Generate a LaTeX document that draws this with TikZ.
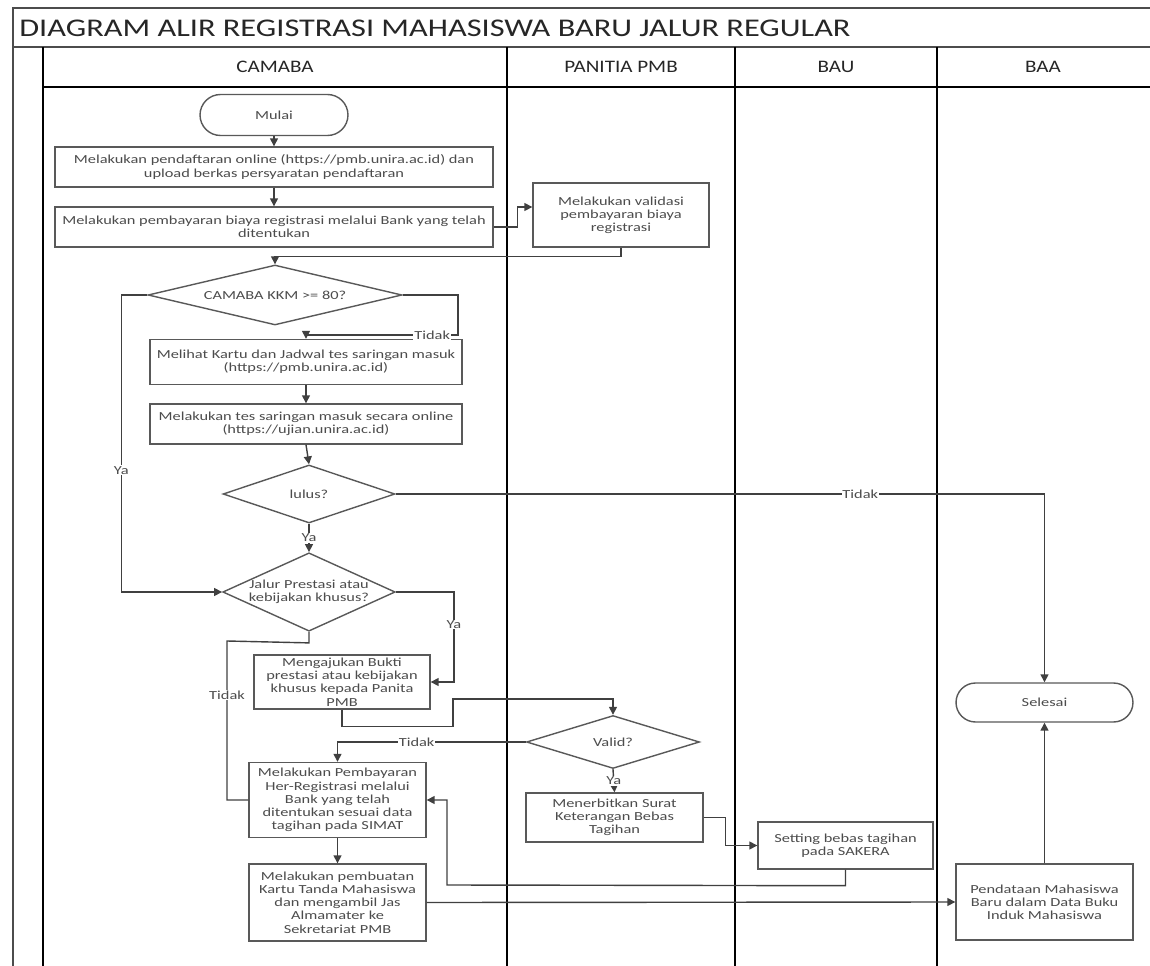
\documentclass[tikz,border=0pt]{standalone}
\usepackage{fontspec}
\setmainfont[FakeStretch=1.2]{Carlito}
\newfontfamily\boxfont[FakeStretch=1.33]{Carlito}
\newfontfamily\titlefont[FakeStretch=1.27]{Carlito}
\usetikzlibrary{shapes.geometric,shapes.misc,arrows.meta}
\tikzset{
  lane/.style={line width=1.1pt, black},
  frame/.style={line width=1pt, black!70},
  proc/.style={draw=black!65, line width=0.8pt, fill=white, inner sep=0pt, align=center,
    font=\boxfont\fontsize{7}{7.5}\selectfont, text=black!70},
  term/.style={proc, rounded rectangle},
  decision/.style={proc, diamond, aspect=2.3},
  conn/.style={draw=black!75, line width=0.8pt},
  arr/.style={conn, -{Triangle[length=4.5pt,width=4.5pt]}},
  lbl/.style={fill=white, inner sep=0.5pt, font=\boxfont\fontsize{7}{7.5}\selectfont, text=black!70},
  lanehead/.style={font=\fontsize{10}{12}\selectfont, text=black!85},
}
\begin{document}
\begin{tikzpicture}[x=0.02cm,y=-0.02cm]
\useasboundingbox (0,0) rectangle (1150,966);
% frame and swimlanes
\draw[frame] (13,966) -- (13,8) -- (1150,8);
\draw[frame] (13,47) -- (1150,47);
\draw[lane] (43,47) -- (43,966);
\draw[lane] (43,87) -- (1150,87);
\draw[lane] (507,47) -- (507,966);
\draw[lane] (735,47) -- (735,966);
\draw[lane] (937,47) -- (937,966);
\node[anchor=west, inner sep=0pt, font=\titlefont\fontsize{14.5}{16}\selectfont, text=black!85] (judul) at (19,28)
  {DIAGRAM ALIR REGISTRASI MAHASISWA BARU JALUR REGULAR};
\node[lanehead] (hcamaba) at (275,67) {CAMABA};
\node[lanehead] (hpanitia) at (621,67) {PANITIA PMB};
\node[lanehead] (hbau) at (836,67) {BAU};
\node[lanehead] (hbaa) at (1043,67) {BAA};

% steps
\node[term, minimum width=2.96cm, minimum height=0.82cm] (mulai) at (274,115) {Mulai};
\node[proc, minimum width=8.76cm, minimum height=0.8cm] (daftar) at (274,167)
  {Melakukan pendaftaran online (https://pmb.unira.ac.id) dan\\upload berkas persyaratan pendaftaran};
\node[proc, minimum width=8.76cm, minimum height=0.8cm] (bayar) at (274,227)
  {Melakukan pembayaran biaya registrasi melalui Bank yang telah\\ditentukan};
\node[proc, minimum width=3.52cm, minimum height=1.28cm] (validasi) at (621,215)
  {Melakukan validasi\\pembayaran biaya\\registrasi};
\node[decision, aspect=4.2, minimum width=5.08cm, minimum height=1.2cm] (kkm) at (275,295) {CAMABA KKM >= 80?};
\node[proc, minimum width=6.24cm, minimum height=0.9cm] (kartu) at (306,362)
  {Melihat Kartu dan Jadwal tes saringan masuk\\(https://pmb.unira.ac.id)};
\node[proc, minimum width=6.24cm, minimum height=0.8cm] (tes) at (306,424)
  {Melakukan tes saringan masuk secara online\\(https://ujian.unira.ac.id)};
\node[decision, minimum width=3.44cm, minimum height=1.16cm] (lulus) at (309,494) {lulus?};
\node[decision, aspect=2.2, minimum width=3.44cm, minimum height=1.5cm] (jalur) at (309,592)
  {Jalur Prestasi atau\\kebijakan khusus?};
\node[proc, minimum width=3.52cm, minimum height=1.08cm] (bukti) at (342,682)
  {Mengajukan Bukti\\prestasi atau kebijakan\\khusus kepada Panita\\PMB};
\node[decision, minimum width=3.46cm, minimum height=1.06cm] (valid) at (613,742) {Valid?};
\node[proc, minimum width=3.54cm, minimum height=1.5cm] (herreg) at (337.5,800)
  {Melakukan Pembayaran\\Her-Registrasi melalui\\Bank yang telah\\ditentukan sesuai data\\tagihan pada SIMAT};
\node[proc, minimum width=3.54cm, minimum height=0.98cm] (skbt) at (614.5,817.5)
  {Menerbitkan Surat\\Keterangan Bebas\\Tagihan};
\node[proc, minimum width=3.5cm, minimum height=0.94cm] (sakera) at (845.5,845.5)
  {Setting bebas tagihan\\pada SAKERA};
\node[proc, minimum width=3.54cm, minimum height=1.54cm] (ktm) at (337.5,902.5)
  {Melakukan pembuatan\\Kartu Tanda Mahasiswa\\dan mengambil Jas\\Almamater ke\\Sekretariat PMB};
\node[proc, minimum width=3.54cm, minimum height=1.52cm] (buku) at (1044.5,902)
  {Pendataan Mahasiswa\\Baru dalam Data Buku\\Induk Mahasiswa};
\node[term, minimum width=3.54cm, minimum height=0.78cm] (selesai) at (1044.5,702.5) {Selesai};

% connectors
\draw[arr] (mulai.south) -- (daftar.north);
\draw[arr] (daftar.south) -- (bayar.north);
\draw[arr] (bayar.east) -- ++(24,0) |- ([yshift=0.16cm]validasi.west);
\draw[arr] (validasi.south) -- ++(0,9) -| (kkm.north);
\draw[arr] (kkm.west) -- ++(-26,0) |- node[lbl, pos=0.295] {Ya} (jalur.west);
\draw[arr] (kkm.east) -| (458,335) -- node[lbl, pos=0.17] {Tidak} (kartu.north |- 0,335) -- (kartu.north);
\draw[arr] (kartu.south) -- (tes.north);
\draw[arr] (tes.south) -- (lulus.north);
\draw[arr] (lulus.east) -| node[lbl, pos=0.358] {Tidak} (selesai.north);
\draw[arr] (lulus.south) -- node[lbl] {Ya} (jalur.north);
\draw[arr] (jalur.east) -- ++(58,0) |- node[lbl, pos=0.18] {Ya} (bukti.east);
\draw[conn] (jalur.south) -- ++(0,11) -- (227,641) |- node[lbl, pos=0.17] {Tidak} (herreg.west);
\draw[arr] (bukti.south) -- ++(0,17) -| (453,699) -| (valid.north);
\draw[arr] (valid.west) -| node[lbl, pos=0.29] {Tidak} (herreg.north);
\draw[arr] (valid.south) -- node[lbl] {Ya} (skbt.north);
\draw[arr] (skbt.east) -- ++(22,0) |- (sakera.west);
\draw[arr] (sakera.south) -- ++(0,16) -- (447,885) |- (herreg.east);
\draw[arr] (herreg.south) -- (ktm.north);
\draw[arr] (ktm.east) -- (buku.west);
\draw[arr] (buku.north) -- (selesai.south);
\end{tikzpicture}
\end{document}
